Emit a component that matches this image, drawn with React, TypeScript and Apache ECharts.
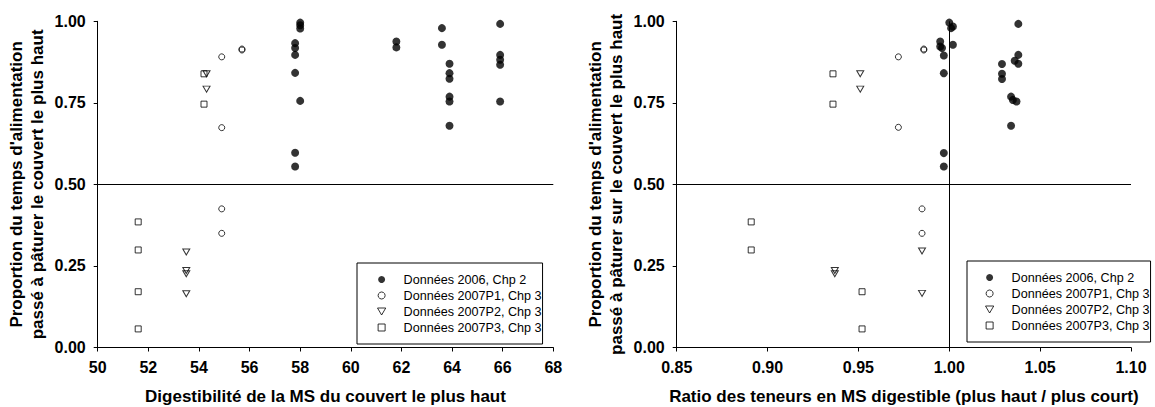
import React, { useEffect, useRef } from "react";
import * as echarts from "echarts";

// ---- Data ----
const seriesNames = [
  "Données 2006, Chp 2",
  "Données 2007P1, Chp 3",
  "Données 2007P2, Chp 3",
  "Données 2007P3, Chp 3",
];

const yTitleLeft = "Proportion du temps d'alimentation\npassé à pâturer le couvert le plus haut";
const yTitleRight = "Proportion du temps d'alimentation\npassé à pâturer sur le couvert le plus haut";
const xTitleLeft = "Digestibilité de la MS du couvert le plus haut";
const xTitleRight = "Ratio des teneurs en MS digestible (plus haut / plus court)";

// Left chart: digestibility vs proportion
const left2006: number[][] = [
  [58.0, 0.996], [58.0, 0.988], [58.0, 0.978],
  [57.8, 0.933], [57.8, 0.918], [57.8, 0.897], [57.8, 0.842], [57.8, 0.597], [57.8, 0.555],
  [58.0, 0.756],
  [61.8, 0.938], [61.8, 0.920],
  [63.6, 0.979], [63.6, 0.928],
  [63.9, 0.870], [63.9, 0.841], [63.9, 0.824], [63.9, 0.769], [63.9, 0.754], [63.9, 0.680],
  [65.9, 0.992], [65.9, 0.897], [65.9, 0.882], [65.9, 0.867], [65.9, 0.754],
];
const left2007P1: number[][] = [
  [54.9, 0.891], [54.9, 0.674], [55.7, 0.915], [55.7, 0.912], [54.9, 0.425], [54.9, 0.350],
];
const left2007P2: number[][] = [
  [54.3, 0.839], [54.3, 0.792], [53.5, 0.293], [53.5, 0.236], [53.5, 0.226], [53.5, 0.165],
];
const left2007P3: number[][] = [
  [54.2, 0.839], [54.2, 0.746], [51.6, 0.385], [51.6, 0.299], [51.6, 0.171], [51.6, 0.057],
];

// Right chart: ratio vs proportion
const right2006: number[][] = [
  [1.000, 0.996], [1.001, 0.979], [1.002, 0.984],
  [0.995, 0.938], [0.995, 0.923], [0.996, 0.918], [1.002, 0.928],
  [0.997, 0.895], [0.997, 0.841], [0.997, 0.596], [0.997, 0.555],
  [1.038, 0.992], [1.038, 0.897], [1.036, 0.879], [1.038, 0.870],
  [1.029, 0.869], [1.029, 0.839], [1.029, 0.823],
  [1.034, 0.769], [1.035, 0.759], [1.037, 0.754], [1.034, 0.680],
];
const right2007P1: number[][] = [
  [0.972, 0.891], [0.972, 0.675], [0.986, 0.915], [0.986, 0.912], [0.985, 0.425], [0.985, 0.350],
];
const right2007P2: number[][] = [
  [0.951, 0.839], [0.951, 0.792], [0.937, 0.236], [0.937, 0.226], [0.985, 0.296], [0.985, 0.166],
];
const right2007P3: number[][] = [
  [0.936, 0.839], [0.936, 0.746], [0.891, 0.385], [0.891, 0.299], [0.952, 0.171], [0.952, 0.057],
];

const leftX = { min: 50, max: 68, interval: 2 };
const rightX = { min: 0.85, max: 1.1, interval: 0.05 };
const yRange = { min: 0, max: 1, interval: 0.25 };
const leftRefY = 0.5;
const rightRefX = 1.0;

const FONT = "'Liberation Sans', Arial, Helvetica, sans-serif";
const TRI_DOWN = "path://M0,0L10,0L5,8.5Z";
const SQUARE = "path://M0,0L10,0L10,10L0,10Z";

export default function App() {
  const ref = useRef<HTMLDivElement>(null);

  useEffect(() => {
    if (!ref.current) return;
    document.body.style.margin = "0";
    document.body.style.overflow = "hidden";
    const chart = echarts.init(ref.current, undefined, { renderer: "svg" });

    const emptyStyle = { color: "rgba(0,0,0,0)", borderColor: "#000", borderWidth: 1 };

    const mkSeries = (idx: number, sets: number[][][], refLine: any) => {
      const out: any[] = [
        {
          type: "scatter", name: seriesNames[0], data: sets[0],
          xAxisIndex: idx, yAxisIndex: idx,
          symbol: "circle", symbolSize: 8, itemStyle: { color: "#000" }, z: 3,
          markLine: refLine,
        },
        {
          type: "scatter", name: seriesNames[1], data: sets[1],
          xAxisIndex: idx, yAxisIndex: idx,
          symbol: "circle", symbolSize: 6, itemStyle: emptyStyle, z: 4,
        },
        {
          type: "scatter", name: seriesNames[2], data: sets[2],
          xAxisIndex: idx, yAxisIndex: idx,
          symbol: "triangle", symbolRotate: 180, symbolSize: [7, 6], itemStyle: emptyStyle, z: 4,
        },
        {
          type: "scatter", name: seriesNames[3], data: sets[3],
          xAxisIndex: idx, yAxisIndex: idx,
          symbol: "rect", symbolSize: 6, itemStyle: emptyStyle, z: 4,
        },
      ];
      return out;
    };

    const lineStyle = { color: "#000", width: 1, type: "solid" };
    const leftMark = {
      silent: true, symbol: "none", label: { show: false }, lineStyle,
      data: [{ yAxis: leftRefY }],
    };
    const rightMark = {
      silent: true, symbol: "none", label: { show: false }, lineStyle,
      data: [{ yAxis: leftRefY }, { xAxis: rightRefX }],
    };

    const xAxisCommon = (r: any, name: string, idx: number, dec: number) => ({
      type: "value", gridIndex: idx, min: r.min, max: r.max, interval: r.interval,
      name, nameLocation: "middle", nameGap: 40,
      nameTextStyle: { fontSize: 17, fontWeight: "bold", color: "#000", fontFamily: FONT },
      axisLine: { show: true, onZero: false, lineStyle: { color: "#000", width: 1 } },
      axisTick: { show: true, length: 4, lineStyle: { color: "#000" } },
      axisLabel: {
        fontSize: 16, fontWeight: "bold", color: "#000", fontFamily: FONT, margin: 12,
        formatter: (v: number) => v.toFixed(dec),
      },
      splitLine: { show: false },
    });
    const yAxisCommon = (name: string, idx: number) => ({
      type: "value", gridIndex: idx, min: yRange.min, max: yRange.max, interval: yRange.interval,
      name, nameLocation: "middle", nameGap: 50, nameRotate: 90,
      nameTextStyle: { fontSize: 17, fontWeight: "bold", color: "#000", fontFamily: FONT, lineHeight: 21 },
      axisLine: { show: true, onZero: false, lineStyle: { color: "#000", width: 1 } },
      axisTick: { show: true, length: 4, lineStyle: { color: "#000" } },
      axisLabel: {
        fontSize: 16, fontWeight: "bold", color: "#000", fontFamily: FONT, margin: 12,
        formatter: (v: number) => v.toFixed(2),
      },
      splitLine: { show: false },
    });

    const legendData = [
      { name: seriesNames[0], icon: "circle", itemStyle: { color: "#000", borderWidth: 0 } },
      { name: seriesNames[1], icon: "circle", itemStyle: emptyStyle },
      { name: seriesNames[2], icon: TRI_DOWN, itemStyle: emptyStyle },
      { name: seriesNames[3], icon: SQUARE, itemStyle: emptyStyle },
    ];
    const legendCommon = {
      orient: "vertical", data: legendData,
      itemWidth: 34, itemHeight: 7, itemGap: 3,
      symbolKeepAspect: true, symbolRotate: 0,
      borderColor: "#000", borderWidth: 1, borderRadius: 0,
      selectedMode: false,
      textStyle: { fontSize: 12.6, color: "#000", fontFamily: FONT, lineHeight: 13 },
    };

    chart.setOption({
      animation: false,
      backgroundColor: "#fff",
      textStyle: { fontFamily: FONT },
      grid: [
        { left: 97.7, top: 21.3, width: 455.6, height: 326.2, outerBoundsMode: "none", containLabel: false },
        { left: 676.7, top: 21.3, width: 454.3, height: 326.2, outerBoundsMode: "none", containLabel: false },
      ],
      xAxis: [
        xAxisCommon(leftX, xTitleLeft, 0, 0),
        xAxisCommon(rightX, xTitleRight, 1, 2),
      ],
      yAxis: [yAxisCommon(yTitleLeft, 0), yAxisCommon(yTitleRight, 1)],
      legend: [
        { ...legendCommon, left: 357, top: 263, padding: [10, 1, 10, 20] },
        { ...legendCommon, left: 967, top: 261, padding: [10, 1, 10, 18] },
      ],
      series: [
        ...mkSeries(0, [left2006, left2007P1, left2007P2, left2007P3], leftMark),
        ...mkSeries(1, [right2006, right2007P1, right2007P2, right2007P3], rightMark),
      ],
    });

    return () => chart.dispose();
  }, []);

  return <div ref={ref} style={{ width: 1155, height: 407 }} />;
}
